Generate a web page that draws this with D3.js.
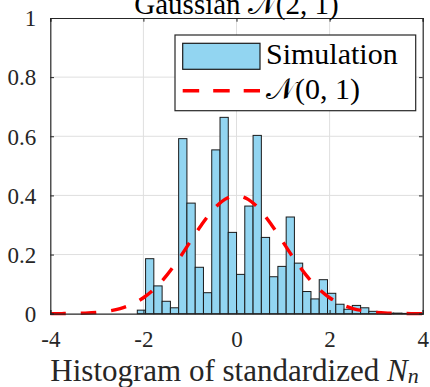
<!DOCTYPE html>
<html>
<head>
<meta charset="UTF-8">
<script src="https://d3js.org/d3.v7.min.js"></script>
<style>
  body { margin: 0; background: #fff; }
  svg, svg text { font-family: "Liberation Serif", "Tinos", "DejaVu Serif", "Noto Serif", serif !important; }
</style>
</head>
<body>
<div id="chart"></div>
<script>
// histogram bins (edges) and bar heights (probability density)
const binEdges = [-2.131, -1.953, -1.776, -1.598, -1.420, -1.243, -1.065, -0.887, -0.710, -0.532,
  -0.354, -0.177, 0.001, 0.178, 0.356, 0.534, 0.711, 0.889, 1.067, 1.244,
  1.422, 1.600, 1.777, 1.955, 2.133, 2.310, 2.488, 2.666, 2.843, 3.021,
  3.199, 3.376, 3.554, 3.732, 3.909];
const density = [0.012, 0.186, 0.094, 0.042, 0.020, 0.592, 0.374, 0.157, 0.071, 0.554,
  0.664, 0.275, 0.133, 0.364, 0.603, 0.258, 0.125, 0.160, 0.327, 0.171,
  0.075, 0.050, 0.115, 0.069, 0.032, 0.015, 0.028, 0.020, 0.008, 0.003,
  0.002, 0.002, 0.001, 0.001];

// reference curve N(0,1), read at steps of 0.25
const curveX = [-4, -3.75, -3.5, -3.25, -3, -2.75, -2.5, -2.25, -2, -1.75, -1.5, -1.25, -1, -0.75, -0.5, -0.25,
  0, 0.25, 0.5, 0.75, 1, 1.25, 1.5, 1.75, 2, 2.25, 2.5, 2.75, 3, 3.25, 3.5, 3.75, 4];
const curveY = [0.0001, 0.0004, 0.0009, 0.0020, 0.0044, 0.0091, 0.0175, 0.0317, 0.0540, 0.0863, 0.1295, 0.1826, 0.2420, 0.3011, 0.3521, 0.3867,
  0.3989, 0.3867, 0.3521, 0.3011, 0.2420, 0.1826, 0.1295, 0.0863, 0.0540, 0.0317, 0.0175, 0.0091, 0.0044, 0.0020, 0.0009, 0.0004, 0.0001];

const xTicks = [-4, -2, 0, 2, 4];
const yTicks = [0, 0.2, 0.4, 0.6, 0.8, 1];
const legendLabels = ["Simulation", "\u{1D4A9}(0, 1)"];

const width = 430, height = 387;
const margin = { top: 18, right: 7.3, bottom: 73.3, left: 50.3 };
const iw = width - margin.left - margin.right;
const ih = height - margin.top - margin.bottom;
const axisColor = "#262626";

const svg = d3.select("#chart").append("svg")
  .attr("width", width).attr("height", height);
svg.append("rect").attr("width", width).attr("height", height).attr("fill", "#fff");

const g = svg.append("g").attr("transform", `translate(${margin.left},${margin.top})`);

const x = d3.scaleLinear().domain([-4, 4]).range([0, iw]);
const y = d3.scaleLinear().domain([0, 1]).range([ih, 0]);

// grid
g.append("g").selectAll("line").data(xTicks.slice(1, -1)).join("line")
  .attr("x1", d => x(d)).attr("x2", d => x(d)).attr("y1", 0).attr("y2", ih)
  .attr("stroke", "#dfdfdf").attr("stroke-width", 1);
g.append("g").selectAll("line").data(yTicks.slice(1, -1)).join("line")
  .attr("y1", d => y(d)).attr("y2", d => y(d)).attr("x1", 0).attr("x2", iw)
  .attr("stroke", "#dfdfdf").attr("stroke-width", 1);

// bars
g.append("g").selectAll("rect").data(density).join("rect")
  .attr("x", (d, i) => x(binEdges[i]))
  .attr("width", (d, i) => x(binEdges[i + 1]) - x(binEdges[i]))
  .attr("y", d => y(d))
  .attr("height", d => ih - y(d))
  .attr("fill", "#92d5f1")
  .attr("stroke", "#1a1a1a")
  .attr("stroke-width", 1);

// normal curve
const line = d3.line().x(d => x(d[0])).y(d => y(d[1])).curve(d3.curveMonotoneX);
g.append("path")
  .datum(curveX.map((v, i) => [v, curveY[i]]))
  .attr("d", line)
  .attr("fill", "none")
  .attr("stroke", "#ff0000")
  .attr("stroke-width", 3.4)
  .attr("stroke-dasharray", "15.5,15");

// axes (ticks inside, box on)
const tl = 3.7;
const axB = g.append("g").attr("transform", `translate(0,${ih})`)
  .call(d3.axisBottom(x).tickValues(xTicks).tickSize(-tl).tickPadding(16.5).tickFormat(d3.format("d")));
const axT = g.append("g")
  .call(d3.axisTop(x).tickValues(xTicks).tickSize(-tl).tickFormat(""));
const axL = g.append("g")
  .call(d3.axisLeft(y).tickValues(yTicks).tickSize(-tl).tickPadding(14).tickFormat(d => d === 0 || d === 1 ? d3.format("d")(d) : d3.format(".1f")(d)));
const axR = g.append("g").attr("transform", `translate(${iw},0)`)
  .call(d3.axisRight(y).tickValues(yTicks).tickSize(-tl).tickFormat(""));

[axB, axT, axL, axR].forEach(a => {
  a.attr("font-family", null);
  a.select(".domain").attr("stroke", axisColor).attr("stroke-width", 1.2);
  a.selectAll(".tick line").attr("stroke", axisColor);
  a.selectAll("text").attr("fill", axisColor).attr("font-size", 23);
});
axB.selectAll("text").text(d => d < 0 ? "-" + Math.abs(d) : d).attr("dy", "0.71em");
axL.selectAll("text").attr("dy", "0.34em");

// title
svg.append("text")
  .attr("x", margin.left + iw / 2).attr("y", 13.5)
  .attr("text-anchor", "middle").attr("font-size", 29).attr("fill", "#000")
  .text("Gaussian \u{1D4A9}(2, 1)");

// x label
const xl = svg.append("text")
  .attr("x", margin.left + iw / 2 - 2).attr("y", 380.5)
  .attr("text-anchor", "middle").attr("font-size", 31).attr("fill", axisColor);
xl.append("tspan").text("Histogram of standardized ");
xl.append("tspan").attr("font-style", "italic").text("N");
xl.append("tspan").attr("font-style", "italic").attr("font-size", 22).attr("dy", 2.5).text("n");

// legend
const lg = svg.append("g");
lg.append("rect").attr("x", 175).attr("y", 35).attr("width", 240.7).attr("height", 75.7)
  .attr("fill", "#fff").attr("stroke", axisColor).attr("stroke-width", 1.2);
lg.append("rect").attr("x", 182.7).attr("y", 43.3).attr("width", 77.3).attr("height", 26)
  .attr("fill", "#92d5f1").attr("stroke", "#1a1a1a").attr("stroke-width", 1.2);
lg.append("line").attr("x1", 182.7).attr("x2", 260).attr("y1", 90.7).attr("y2", 90.7)
  .attr("stroke", "#ff0000").attr("stroke-width", 3.4).attr("stroke-dasharray", "16.5,14");
lg.selectAll("text.lab").data(legendLabels).join("text")
  .attr("class", "lab")
  .attr("x", 266).attr("y", (d, i) => 64.3 + i * 34.4)
  .attr("font-size", 30).attr("fill", "#000")
  .text(d => d);
</script>
</body>
</html>
